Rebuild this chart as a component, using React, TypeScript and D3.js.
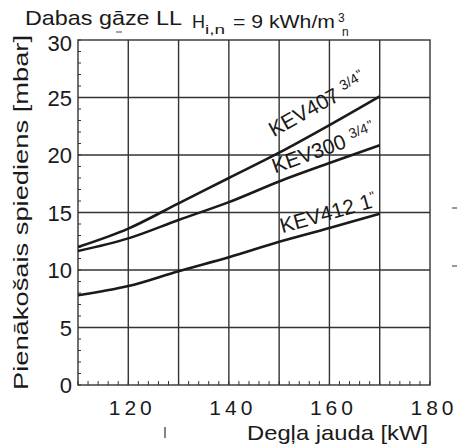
import React from 'react';
import * as d3 from 'd3';

// burner output [kW] and required connection pressure [mbar]
const power = [110, 120, 130, 140, 150, 160, 170];
const kev407 = [12.0, 13.6, 15.8, 18.0, 20.2, 22.6, 25.1];
const kev300 = [11.65, 12.75, 14.35, 15.9, 17.7, 19.3, 20.85];
const kev412 = [7.8, 8.6, 9.9, 11.1, 12.45, 13.65, 14.9];

const xTicks = [120, 140, 160, 180];
const yTicks = [0, 5, 10, 15, 20, 25, 30];

// at = where along the curve the label begins, off = gap above the curve (px)
const series = [
  { name: 'KEV407', size: '3/4', values: kev407, at: 150.5, off: 16 },
  { name: 'KEV300', size: '3/4', values: kev300, at: 149.8, off: 9 },
  { name: 'KEV412', size: '1', values: kev412, at: 151.0, off: 7.5 },
];

const W = 457;
const H = 448;
const margin = { left: 78, right: 27, top: 40, bottom: 63 };
const FONT = 'Liberation Sans, Arial, sans-serif';
const INK = '#1a1a1a';

export default function App() {
  const x = d3.scaleLinear().domain([110, 180]).range([margin.left, W - margin.right]);
  const y = d3.scaleLinear().domain([0, 30]).range([H - margin.bottom, margin.top]);

  const line = d3
    .line<number>()
    .x((_, i) => x(power[i]))
    .y((d) => y(d))
    .curve(d3.curveMonotoneX);

  const grid = d3.range(120, 180, 10);
  const hgrid = d3.range(5, 30, 5);
  const xMinor = d3.range(110, 181, 2);
  const yMinor = d3.range(0, 31, 1);

  // start point + angle of a label running along its curve
  const labelPos = (values: number[], at: number, off: number) => {
    const yAt = d3.scaleLinear().domain(power).range(values);
    const end = Math.min(at + 20, 170);
    const dx = x(end) - x(at);
    const dy = y(yAt(end)) - y(yAt(at));
    const ang = (Math.atan2(dy, dx) * 180) / Math.PI;
    const len = Math.hypot(dx, dy);
    const px = x(at);
    const py = y(yAt(at));
    return { px: px + (dy / len) * off, py: py - (dx / len) * off, ang };
  };

  // the top label sits a little below its grid line
  const yLabelShift = (t: number) => (t === 30 ? 3 : 0);

  return (
    <svg
      width={W}
      height={H}
      style={{ position: 'absolute', left: 0, top: 0, background: '#fff' }}
      fontFamily={FONT}
    >
      {/* grid */}
      {grid.map((g) => (
        <line key={'v' + g} x1={x(g)} x2={x(g)} y1={y(0)} y2={y(30)} stroke="#333" strokeWidth={1.4} />
      ))}
      {hgrid.map((g) => (
        <line key={'h' + g} x1={x(110)} x2={x(180)} y1={y(g)} y2={y(g)} stroke="#333" strokeWidth={1.4} />
      ))}
      <rect
        x={x(110)}
        y={y(30)}
        width={x(180) - x(110)}
        height={y(0) - y(30)}
        fill="none"
        stroke="#333"
        strokeWidth={1.4}
      />

      {/* minor ticks */}
      {xMinor.map((t) => (
        <line key={'xm' + t} x1={x(t)} x2={x(t)} y1={y(0)} y2={y(0) - 4} stroke="#333" strokeWidth={1} />
      ))}
      {yMinor.map((t) => (
        <line key={'ym' + t} x1={x(110)} x2={x(110) + 3} y1={y(t)} y2={y(t)} stroke="#333" strokeWidth={1} />
      ))}

      {/* curves */}
      {series.map((s) => (
        <path key={s.name} d={line(s.values) || ''} fill="none" stroke={INK} strokeWidth={2.6} />
      ))}

      {/* curve labels */}
      {series.map((s) => {
        const p = labelPos(s.values, s.at, s.off);
        return (
          <text
            key={'l' + s.name}
            transform={`translate(${p.px},${p.py}) rotate(${p.ang})`}
            fontSize={21}
            fill={INK}
          >
            {s.size === '1' ? (
              <>
                {s.name + ' 1'}
                <tspan fontSize={13} dy={-7}>"</tspan>
              </>
            ) : (
              <>
                {s.name + ' '}
                <tspan fontSize={14} dy={-7}>{s.size}</tspan>
                <tspan fontSize={13} dx={1} dy={-2}>"</tspan>
              </>
            )}
          </text>
        );
      })}

      {/* y tick labels */}
      {yTicks.map((t) => (
        <text
          key={'yt' + t}
          x={x(110) - 6}
          y={y(t) + yLabelShift(t) + 8}
          textAnchor="end"
          fontSize={22}
          fill={INK}
        >
          {t}
        </text>
      ))}

      {/* x tick labels */}
      {xTicks.map((t) => (
        <text
          key={'xt' + t}
          x={x(t)}
          dx={4}
          y={415}
          textAnchor="middle"
          fontSize={21}
          letterSpacing={4}
          fill={INK}
        >
          {t}
        </text>
      ))}

      {/* axis titles */}
      <text
        transform={`translate(28,${(y(0) + y(30)) / 2}) rotate(-90)`}
        textAnchor="middle"
        fontSize={21}
        textLength={355}
        lengthAdjust="spacingAndGlyphs"
        fill={INK}
      >
        Pienākošais spiediens [mbar]
      </text>
      <text x={428} y={440} textAnchor="end" fontSize={21} textLength={181} lengthAdjust="spacingAndGlyphs" fill={INK}>
        Degļa jauda [kW]
      </text>

      {/* header */}
      <text x={25} y={25} fontSize={21} textLength={157} lengthAdjust="spacingAndGlyphs" fill={INK}>
        Dabas gāze LL
      </text>
      <line x1={116} x2={122} y1={32} y2={32} stroke="#666" strokeWidth={1.2} />
      <text x={192} y={28} fontSize={18} fill={INK}>
        H
      </text>
      <text x={205} y={34} fontSize={13} textLength={20} lengthAdjust="spacingAndGlyphs" fill={INK}>
        i,n
      </text>
      <text x={233} y={28} fontSize={18} textLength={102} lengthAdjust="spacingAndGlyphs" fill={INK}>
        = 9 kWh/m
      </text>
      <text x={338} y={22} fontSize={12} fill={INK}>
        3
      </text>
      <text x={342} y={36} fontSize={12} fill={INK}>
        n
      </text>

      {/* stray marks from the scan */}
      <line x1={165} x2={165} y1={427} y2={438} stroke="#333" strokeWidth={1.2} />
      <line x1={452} x2={457} y1={208} y2={208} stroke="#333" strokeWidth={1} />
      <line x1={452} x2={457} y1={266} y2={266} stroke="#333" strokeWidth={1} />
    </svg>
  );
}
